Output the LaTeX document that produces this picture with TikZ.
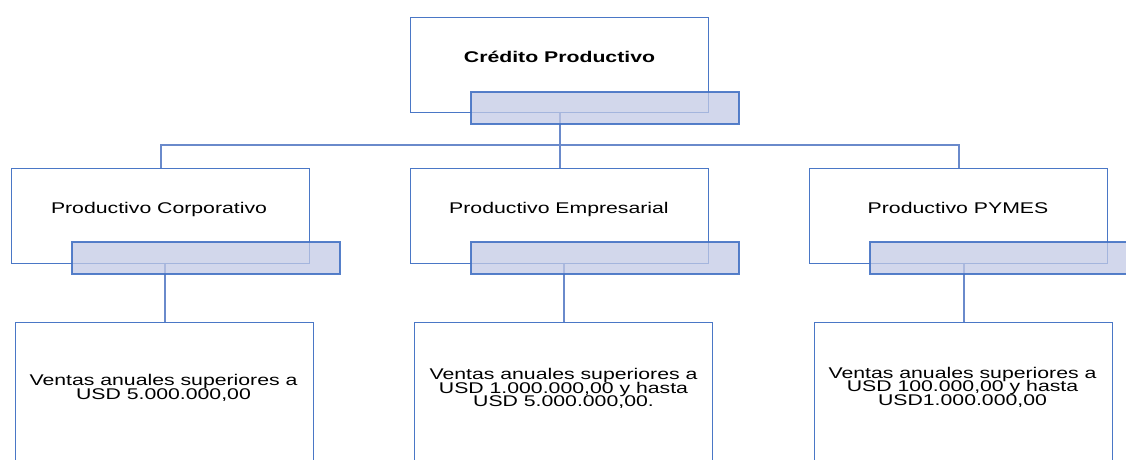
\documentclass[tikz,border=0pt]{standalone}
\usepackage{fontspec}
\setmainfont{Liberation Sans}
\usepackage{graphicx}
\definecolor{boxblue}{HTML}{4A77C6}
\definecolor{ovlfill}{HTML}{C3CAE5}
\definecolor{ovldraw}{HTML}{4472C4}
\definecolor{connblue}{HTML}{6A8ACB}
\newcommand\sx[1]{\scalebox{1.37}[1]{#1}}
\newcommand\mlines[1]{\sx{\vbox{\fontsize{15.5}{13.6}\selectfont\lineskiplimit=-50pt\halign{\hfil##\hfil\cr#1\crcr}}}}
\tikzset{
  box/.style={draw=boxblue, line width=1.3pt, fill=white, inner sep=0pt, anchor=north west, minimum width=298pt, minimum height=95pt},
  lowbox/.style={box, minimum height=150pt},
  ovl/.style={draw=ovldraw, line width=1.5pt, fill=ovlfill, fill opacity=0.75, draw opacity=0.9, inner sep=0pt, anchor=north west, minimum width=268pt, minimum height=32pt},
  conn/.style={draw=connblue, line width=2pt},
  lbl/.style={inner sep=0pt, anchor=base, font=\fontsize{15.5}{18}\selectfont},
  txt/.style={inner sep=0pt, anchor=center}
}
\begin{document}
\begin{tikzpicture}[x=1pt, y=-1pt]
\useasboundingbox (0,0) rectangle (1126,460);
\clip (0,0) rectangle (1126,460);
% boxes
\node[box] (top) at (410,17) {};
\node[box] (c1) at (11,168) {};
\node[box] (c2) at (410,168) {};
\node[box] (c3) at (809,168) {};
\node[lowbox] (d1) at (15,322) {};
\node[lowbox] (d2) at (414,322) {};
\node[lowbox] (d3) at (814,322) {};
% connectors
\coordinate (bus) at (559,145);
\draw[conn] (top.south) -- (c2.north);
\draw[conn] (c1.north) |- (bus) -| (c3.north);
\draw[conn] (d1.north) -- (d1.north |- c1.south);
\draw[conn] (d2.north) -- (d2.north |- c2.south);
\draw[conn] (d3.north) -- (d3.north |- c3.south);
% overlays
\node[ovl] (o0) at (470,91) {};
\node[ovl] (o1) at (71,241) {};
\node[ovl] (o2) at (470,241) {};
\node[ovl] (o3) at (869,241) {};
% texts
\node[lbl, font=\fontsize{15.5}{18}\selectfont\bfseries] (t0) at (559.5,62.3) {\sx{Crédito Productivo}};
\node[lbl] (t1) at (159,213.3) {\sx{Productivo Corporativo}};
\node[lbl] (t2) at (559,213.3) {\sx{Productivo Empresarial}};
\node[lbl] (t3) at (958,213.3) {\sx{Productivo PYMES}};
\node[txt] (u1) at (163.5,388) {\mlines{Ventas anuales superiores a\cr USD 5.000.000,00}};
\node[txt] (u2) at (563.5,388.5) {\mlines{Ventas anuales superiores a\cr USD 1.000.000,00 y hasta\cr USD 5.000.000,00.}};
\node[txt] (u3) at (962.5,387) {\mlines{Ventas anuales superiores a\cr USD 100.000,00 y hasta\cr USD1.000.000,00}};
\end{tikzpicture}
\end{document}
